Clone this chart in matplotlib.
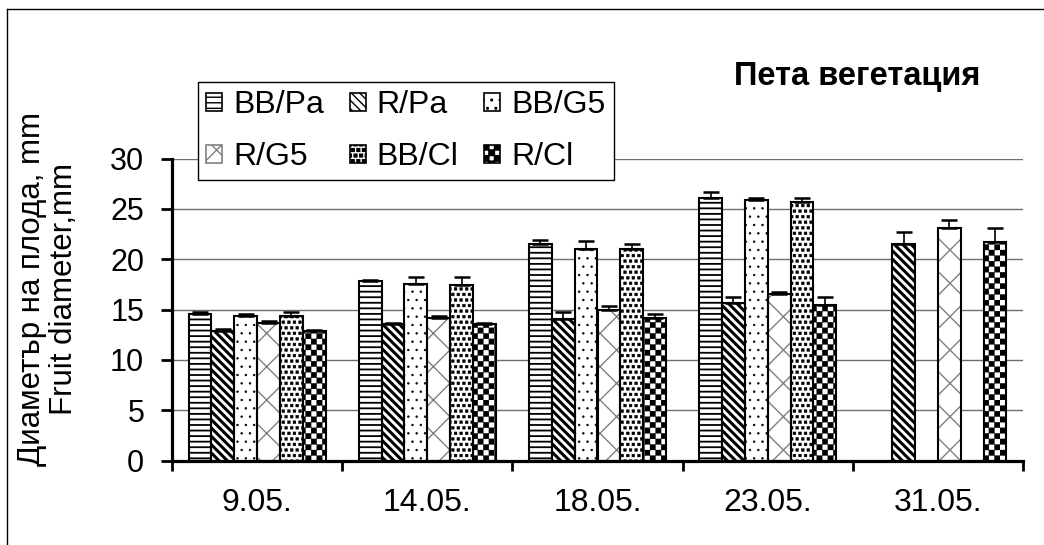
import numpy as np
import matplotlib
matplotlib.use('Agg')
import matplotlib.pyplot as plt
from matplotlib import hatch as mhatch
from matplotlib.path import Path
from matplotlib.lines import Line2D

plt.rcParams['font.family'] = ['Liberation Sans', 'DejaVu Sans']

dates = ['9.05.', '14.05.', '18.05.', '23.05.', '31.05.']
series = ['BB/Pa', 'R/Pa', 'BB/G5', 'R/G5', 'BB/Cl', 'R/Cl']
nan = np.nan

# mean fruit diameter, mm
bb_pa = [14.6, 17.8, 21.5, 26.1, nan]
r_pa = [12.9, 13.6, 14.1, 15.7, 21.5]
bb_g5 = [14.4, 17.5, 21.0, 25.9, nan]
r_g5 = [13.7, 14.2, 15.0, 16.5, 23.1]
bb_cl = [14.4, 17.4, 21.0, 25.7, nan]
r_cl = [12.9, 13.6, 14.2, 15.5, 21.7]

# standard errors (plus side only)
bb_pa_err = [0.2, 0.15, 0.4, 0.6, nan]
r_pa_err = [0.15, 0.1, 0.7, 0.6, 1.2]
bb_g5_err = [0.2, 0.7, 0.8, 0.15, nan]
r_g5_err = [0.15, 0.15, 0.4, 0.2, 0.8]
bb_cl_err = [0.4, 0.8, 0.5, 0.4, nan]
r_cl_err = [0.1, 0.1, 0.35, 0.8, 1.4]

values = [bb_pa, r_pa, bb_g5, r_g5, bb_cl, r_cl]
errors = [bb_pa_err, r_pa_err, bb_g5_err, r_g5_err, bb_cl_err, r_cl_err]


class CheckerHatch(mhatch.HatchPatternBase):
    """Black/white checkerboard; used in place of the 'O' hatch."""

    def __init__(self, hatch, density):
        n = hatch.count('O') * density
        self.num_rows = n - n % 2
        self.num_vertices = 5 * (self.num_rows ** 2 // 2)

    def set_vertices_and_codes(self, vertices, codes):
        n = self.num_rows
        s = 1.0 / n
        k = 0
        for row in range(n):
            for col in range(row % 2, n, 2):
                x0, y0 = col * s, row * s
                vertices[k:k + 5] = [(x0, y0), (x0 + s, y0), (x0 + s, y0 + s),
                                     (x0, y0 + s), (x0, y0)]
                codes[k] = Path.MOVETO
                codes[k + 1:k + 4] = Path.LINETO
                codes[k + 4] = Path.CLOSEPOLY
                k += 5


class SquareDots(mhatch.Shapes):
    """Staggered small filled squares; used in place of the 'o' hatch."""
    filled = True
    size = 0.5

    def __init__(self, hatch, density):
        self.num_rows = hatch.count('o') * density
        sq = Path.unit_rectangle()
        self.shape_vertices = sq.vertices - 0.5
        self.shape_codes = sq.codes
        super().__init__(hatch, density)


swap = {mhatch.LargeCircles: CheckerHatch, mhatch.SmallCircles: SquareDots}
mhatch._hatch_types = [swap.get(t, t) for t in mhatch._hatch_types]

# hatch, hatch colour, hatch line width for each series
styles = [
    ('---', 'black', 1.3),
    ('\\\\\\\\', 'black', 2.2),
    ('..', 'black', 0.5),
    ('x', '#808080', 1.0),
    ('ooo', 'black', 0.3),
    ('OOO', 'black', 0.2),
]

fig = plt.figure(figsize=(10.44, 5.45), dpi=100)
ax = fig.add_axes([172 / 1044, 1 - 460.7 / 545, 851 / 1044, 302.2 / 545])

x = np.arange(len(dates)) + 0.5
w = 0.134
handles = []
for i, (name, vals, errs, (h, hc, hlw)) in enumerate(zip(series, values, errors, styles)):
    pos = x - 2.5 * w + i * w
    bars = ax.bar(pos, vals, w, color='white', edgecolor=hc, hatch=h, linewidth=1.2, zorder=2)
    for b in bars:
        b.set_hatch_linewidth(hlw)
    # black outline on top (hatch colour may differ)
    ax.bar(pos, vals, w, fill=False, edgecolor='black', linewidth=1.5, zorder=3)
    ax.errorbar(pos, vals, yerr=[np.zeros(len(vals)), errs], fmt='none', ecolor='black',
                elinewidth=1.2, capsize=5.5, capthick=1.8, zorder=4)
    handles.append(bars[0])

ax.set_xlim(0, 5)
ax.set_ylim(0, 30)
ax.set_yticks(range(0, 31, 5))
ax.set_xticks(range(0, 6))
ax.set_xticklabels([])
ax.set_xticks(x, minor=True)
ax.set_xticklabels(dates, minor=True)
ax.tick_params(axis='x', which='major', direction='out', length=7.5, width=2)
ax.tick_params(axis='x', which='minor', length=0, pad=20, labelsize=23)
ax.tick_params(axis='y', direction='out', length=8, width=2, pad=12, labelsize=22)
ax.yaxis.grid(True, color='#6e6e6e', linewidth=1)
ax.set_axisbelow(True)
for side in ['top', 'right']:
    ax.spines[side].set_visible(False)
for side in ['left', 'bottom']:
    ax.spines[side].set_linewidth(2.3)

fig.text(48 / 1044, 1 - 289 / 545, 'Диаметър на плода, mm\nFruit diameter,mm',
         rotation=90, ha='center', va='center', fontsize=22.5, linespacing=1.05)

fig.text(734 / 1044, 1 - 85 / 545, 'Пета вегетация', fontsize=23.5, fontweight='bold',
         ha='left', va='baseline')

# legend filled row by row
order = [0, 3, 1, 4, 2, 5]
leg = ax.legend([handles[k] for k in order], [series[k] for k in order], ncol=3,
                loc='upper left', bbox_to_anchor=(198 / 1044, 1 - 82 / 545),
                bbox_transform=fig.transFigure, fontsize=23, frameon=True,
                fancybox=False, edgecolor='black', framealpha=1, borderaxespad=0,
                handlelength=0.5, handleheight=0.5, handletextpad=0.35,
                columnspacing=0.8, labelspacing=0.7, borderpad=0.25)
leg.get_frame().set_linewidth(1)
leg.set_zorder(5)

# chart area border
fig.add_artist(Line2D([7 / 1044, 7 / 1044], [0, 1 - 9 / 545], color='black', lw=1,
                      transform=fig.transFigure))
fig.add_artist(Line2D([7 / 1044, 1], [1 - 9 / 545, 1 - 9 / 545], color='black', lw=1,
                      transform=fig.transFigure))

fig.savefig('out.png', dpi=100)
